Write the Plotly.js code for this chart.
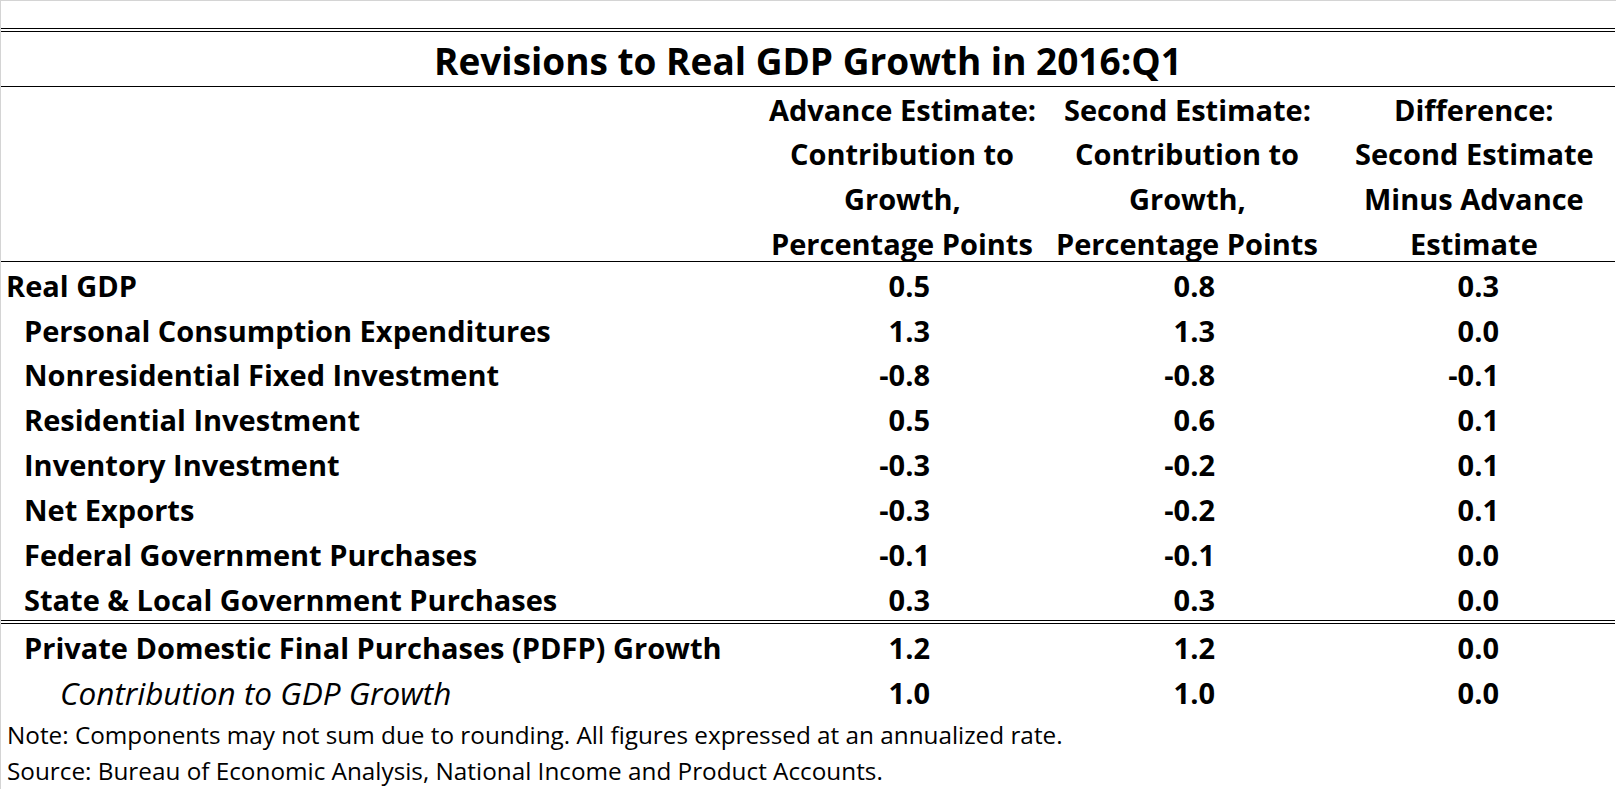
<!DOCTYPE html>
<html>
<head>
<meta charset="utf-8">
<script src="https://cdn.plot.ly/plotly-3.0.1.min.js"></script>
<style>html,body{margin:0;padding:0;background:#fff;overflow:hidden}</style>
</head>
<body>
<div id="chart" style="width:1616px;height:789px"></div>
<script>
// ---- data ----
const title = "Revisions to Real GDP Growth in 2016:Q1";
const colHeaders = [
  ["Advance Estimate:", "Contribution to", "Growth,", "Percentage Points"],
  ["Second Estimate:", "Contribution to", "Growth,", "Percentage Points"],
  ["Difference:", "Second Estimate", "Minus Advance", "Estimate"]
];
const rowLabels = [
  "Real GDP",
  "Personal Consumption Expenditures",
  "Nonresidential Fixed Investment",
  "Residential Investment",
  "Inventory Investment",
  "Net Exports",
  "Federal Government Purchases",
  "State & Local Government Purchases",
  "Private Domestic Final Purchases (PDFP) Growth",
  "Contribution to GDP Growth"
];
const rowLevel = [0, 1, 1, 1, 1, 1, 1, 1, 1, 2];
const advanceEstimate = [0.5, 1.3, -0.8, 0.5, -0.3, -0.3, -0.1, 0.3, 1.2, 1.0];
const secondEstimate  = [0.8, 1.3, -0.8, 0.6, -0.2, -0.2, -0.1, 0.3, 1.2, 1.0];
const difference      = [0.3, 0.0, -0.1, 0.1, 0.1, 0.1, 0.0, 0.0, 0.0, 0.0];
const notes = [
  "Note: Components may not sum due to rounding. All figures expressed at an annualized rate.",
  "Source: Bureau of Economic Analysis, National Income and Product Accounts."
];

// ---- layout / style ----
const W = 1616, H = 789;
const FONT = "'Open Sans', Lato, sans-serif";
const gridTop = 109, pitch = 44.85;           // header line 0 centre, line spacing
const headerCenters = [902, 1187, 1474];
const valueRight = [930, 1215, 1499];
const levelX = [6, 24, 60];
const bodySize = 29;
const sepIndex = 8, sepGap = 4;

const lineY = i => gridTop + i * pitch;
const rowY = rowLabels.map((_, i) => lineY(i + 4) + 1 + (i >= sepIndex ? sepGap : 0));

const traces = [];
// row labels
traces.push({
  type: 'scatter', mode: 'text', cliponaxis: false, hoverinfo: 'skip',
  x: rowLevel.map(l => levelX[l]),
  y: rowY,
  text: rowLabels.map((t, i) => rowLevel[i] === 2 ? '<i>' + t + '</i>' : '<b>' + t + '</b>'),
  textposition: 'middle right',
  textfont: {family: FONT, size: rowLevel.map(l => l === 2 ? 31.5 : bodySize), color: '#000'},
  marker: {size: 0}
});
[advanceEstimate, secondEstimate, difference].forEach((arr, c) => {
  traces.push({
    type: 'scatter', mode: 'text', cliponaxis: false, hoverinfo: 'skip',
    x: arr.map(() => valueRight[c]),
    y: rowY,
    text: arr.map(v => '<b>' + v.toFixed(1) + '</b>'),
    textposition: 'middle left',
    textfont: {family: FONT, size: bodySize, color: '#000'},
    marker: {size: 0}
  });
});

const annotations = [];
annotations.push({
  xref: 'x', yref: 'y', x: 808, y: 60, text: '<b>' + title + '</b>',
  showarrow: false, xanchor: 'center', yanchor: 'middle',
  font: {family: FONT, size: 37, color: '#000'}
});
colHeaders.forEach((lines, c) => {
  lines.forEach((t, k) => {
    annotations.push({
      xref: 'x', yref: 'y', x: headerCenters[c], y: lineY(k), text: '<b>' + t + '</b>',
      showarrow: false, xanchor: 'center', yanchor: 'middle',
      font: {family: FONT, size: bodySize, color: '#000'}
    });
  });
});
const noteY = [734, 770];
notes.forEach((t, i) => {
  annotations.push({
    xref: 'x', yref: 'y', x: 5, y: noteY[i], text: t,
    showarrow: false, xanchor: 'left', yanchor: 'middle',
    font: {family: FONT, size: 24.3, color: '#000'}
  });
});

const hline = (y, c, w) => ({type: 'line', xref: 'x', yref: 'y', x0: 1, x1: 1615, y0: y, y1: y,
  line: {color: c || '#000', width: w || 1}});
const shapes = [
  {type: 'line', xref: 'x', yref: 'y', x0: 0, x1: W, y0: 0.5, y1: 0.5, line: {color: '#d4d4d4', width: 1}},
  {type: 'line', xref: 'x', yref: 'y', x0: 0.5, x1: 0.5, y0: 0, y1: H, line: {color: '#d4d4d4', width: 1}},
  hline(28.5), hline(31.5), hline(86.5), hline(261.5), hline(620.5), hline(623.5)
];

const layout = {
  width: W, height: H,
  margin: {l: 0, r: 0, t: 0, b: 0, pad: 0},
  paper_bgcolor: '#fff', plot_bgcolor: '#fff',
  showlegend: false,
  xaxis: {range: [0, W], visible: false, fixedrange: true},
  yaxis: {range: [H, 0], visible: false, fixedrange: true},
  annotations: annotations,
  shapes: shapes
};

Plotly.newPlot('chart', traces, layout, {staticPlot: true, displayModeBar: false});
</script>
</body>
</html>
